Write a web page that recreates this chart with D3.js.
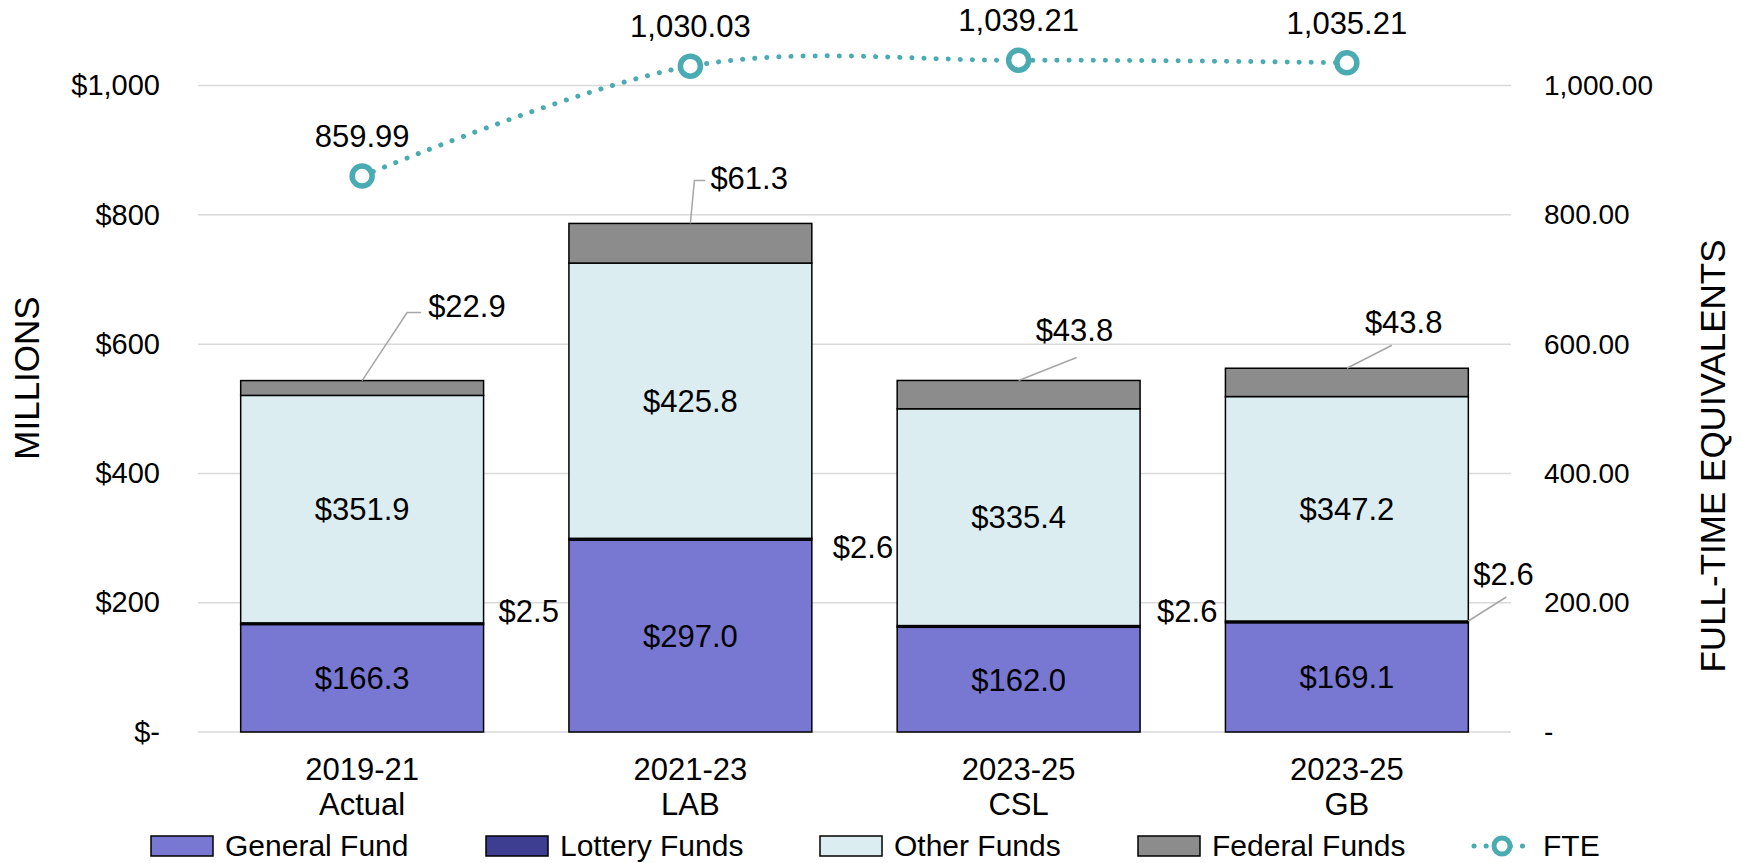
<!DOCTYPE html>
<html>
<head>
<meta charset="utf-8">
<script src="https://cdn.jsdelivr.net/npm/d3@7"></script>
<style>
  body { margin: 0; background: #fff; }
  text { font-family: 'Liberation Sans', Arial, sans-serif; fill: #000; }
</style>
</head>
<body>
<div id="chart"></div>
<script>
// Data
const categories = ['2019-21 Actual', '2021-23 LAB', '2023-25 CSL', '2023-25 GB'];
const generalFund = [166.3, 297.0, 162.0, 169.1];
const lotteryFunds = [2.5, 2.6, 2.6, 2.6];
const otherFunds = [351.9, 425.8, 335.4, 347.2];
const federalFunds = [22.9, 61.3, 43.8, 43.8];
const fte = [859.99, 1030.03, 1039.21, 1035.21];
const leftTicks = [0, 200, 400, 600, 800, 1000];
const rightTicks = [0, 200, 400, 600, 800, 1000];

const seriesNames = ['General Fund', 'Lottery Funds', 'Other Funds', 'Federal Funds'];
const seriesColors = ['#7878d2', '#3d3d92', '#dbedf0', '#8c8c8c'];
const fteColor = '#4aabb3';

const width = 1742;
const height = 863;
const fontSize = 31;

const svg = d3.select('#chart')
  .append('svg')
  .attr('width', width)
  .attr('height', height);

const x = d3.scaleBand()
  .domain(categories)
  .range([198, 1511])
  .paddingInner(0.26)
  .paddingOuter(0.13);

const y = d3.scaleLinear().domain([0, 1100]).range([732, 20.9]);
const yRight = d3.scaleLinear().domain([0, 1100]).range([732, 20.9]);

// Gridlines
svg.append('g')
  .selectAll('line')
  .data(leftTicks)
  .enter()
  .append('line')
  .attr('x1', 198)
  .attr('x2', 1511)
  .attr('y1', (d) => y(d))
  .attr('y2', (d) => y(d))
  .attr('stroke', '#d9d9d9')
  .attr('stroke-width', 1.5);

// Left axis
const leftAxis = svg.append('g')
  .attr('transform', 'translate(166,0)')
  .call(d3.axisLeft(y).tickValues(leftTicks).tickSize(0)
    .tickFormat((d) => d === 0 ? '$-' : '$' + d3.format(',')(d)));
leftAxis.select('.domain').remove();
leftAxis.selectAll('text')
  .attr('x', -6)
  .style('font-size', '29px')
  .style('font-family', 'Liberation Sans, Arial, sans-serif');

// Right axis
const rightAxis = svg.append('g')
  .attr('transform', 'translate(1538,0)')
  .call(d3.axisRight(yRight).tickValues(rightTicks).tickSize(0)
    .tickFormat((d) => d === 0 ? '-' : d3.format(',.2f')(d)));
rightAxis.select('.domain').remove();
rightAxis.selectAll('text')
  .attr('x', 6)
  .style('font-size', '28px')
  .style('font-family', 'Liberation Sans, Arial, sans-serif');

// Axis titles
svg.append('text')
  .attr('transform', 'translate(39,378) rotate(-90)')
  .attr('text-anchor', 'middle')
  .style('font-size', '35px')
  .text('MILLIONS');

svg.append('text')
  .attr('transform', 'translate(1725,456) rotate(-90)')
  .attr('text-anchor', 'middle')
  .style('font-size', '35px')
  .text('FULL-TIME EQUIVALENTS');

// Category labels (two lines)
const catLabels = svg.append('g');
categories.forEach((c) => {
  const parts = c.split(' ');
  const t = catLabels.append('text')
    .attr('text-anchor', 'middle')
    .style('font-size', fontSize + 'px');
  t.append('tspan').attr('x', x(c) + x.bandwidth() / 2).attr('y', 780).text(parts[0]);
  t.append('tspan').attr('x', x(c) + x.bandwidth() / 2).attr('y', 815).text(parts[1]);
});

// Stacked bars
const table = categories.map((c, i) => ({
  cat: c,
  'General Fund': generalFund[i],
  'Lottery Funds': lotteryFunds[i],
  'Other Funds': otherFunds[i],
  'Federal Funds': federalFunds[i]
}));
const stacked = d3.stack().keys(seriesNames)(table);

const bars = svg.append('g');
stacked.forEach((layer, li) => {
  bars.selectAll('.bar' + li)
    .data(layer)
    .enter()
    .append('rect')
    .attr('class', 'bar' + li)
    .attr('x', (d) => x(d.data.cat))
    .attr('width', x.bandwidth())
    .attr('y', (d) => y(d[1]))
    .attr('height', (d) => y(d[0]) - y(d[1]))
    .attr('fill', seriesColors[li])
    .attr('stroke', '#000')
    .attr('stroke-width', 1.5);
});

const money = (v) => '$' + v.toFixed(1);

// Centered labels for general and other funds
[0, 2].forEach((li) => {
  svg.append('g')
    .selectAll('text')
    .data(stacked[li])
    .enter()
    .append('text')
    .attr('x', (d) => x(d.data.cat) + x.bandwidth() / 2)
    .attr('y', (d) => (y(d[0]) + y(d[1])) / 2 + 11)
    .attr('text-anchor', 'middle')
    .style('font-size', fontSize + 'px')
    .text((d) => money(d[1] - d[0]));
});

// Lottery labels, placed beside the bars (offsets from bar right edge / segment top)
const lotteryNudge = [[15, -1], [21, 20], [17, -4], [5, -36]];
svg.append('g')
  .selectAll('text')
  .data(stacked[1])
  .enter()
  .append('text')
  .attr('x', (d, i) => x(d.data.cat) + x.bandwidth() + lotteryNudge[i][0])
  .attr('y', (d, i) => y(d[1]) + lotteryNudge[i][1])
  .style('font-size', fontSize + 'px')
  .text((d) => money(d[1] - d[0]));

// Leader line for the last lottery label
const lastLot = stacked[1][3];
svg.append('path')
  .attr('d', 'M' + (x(lastLot.data.cat) + x.bandwidth()) + ',' + y(lastLot[1]) +
    'l38,-24')
  .attr('fill', 'none')
  .attr('stroke', '#a6a6a6')
  .attr('stroke-width', 1.5);

// Federal labels with leader lines (offsets from bar top center)
const fedLeaders = [
  [[0, 0], [45, -68], [59, -68]],
  [[0, 0], [4, -43], [15, -43]],
  [[0, 0], [58, -23]],
  [[0, 0], [45, -23]]
];
const fedText = [[66, -64], [20, -34], [17, -39], [18, -35]];
svg.append('g')
  .selectAll('path')
  .data(stacked[3])
  .enter()
  .append('path')
  .attr('d', (d, i) => {
    const cx = x(d.data.cat) + x.bandwidth() / 2;
    const cy = y(d[1]);
    return d3.line()(fedLeaders[i].map((p) => [cx + p[0], cy + p[1]]));
  })
  .attr('fill', 'none')
  .attr('stroke', '#a6a6a6')
  .attr('stroke-width', 1.5);

svg.append('g')
  .selectAll('text')
  .data(stacked[3])
  .enter()
  .append('text')
  .attr('x', (d, i) => x(d.data.cat) + x.bandwidth() / 2 + fedText[i][0])
  .attr('y', (d, i) => y(d[1]) + fedText[i][1])
  .style('font-size', fontSize + 'px')
  .text((d) => money(d[1] - d[0]));

// FTE line
const ftePts = fte.map((v, i) => [x(categories[i]) + x.bandwidth() / 2, yRight(v)]);
svg.append('path')
  .attr('d', d3.line().curve(d3.curveCardinal.tension(0))(ftePts))
  .attr('fill', 'none')
  .attr('stroke', fteColor)
  .attr('stroke-width', 5)
  .attr('stroke-linecap', 'round')
  .attr('stroke-dasharray', '0.1 12');

svg.append('g')
  .selectAll('circle')
  .data(ftePts)
  .enter()
  .append('circle')
  .attr('cx', (d) => d[0])
  .attr('cy', (d) => d[1])
  .attr('r', 10)
  .attr('fill', '#fff')
  .attr('stroke', fteColor)
  .attr('stroke-width', 5.5);

svg.append('g')
  .selectAll('text')
  .data(fte)
  .enter()
  .append('text')
  .attr('x', (d, i) => ftePts[i][0])
  .attr('y', (d, i) => ftePts[i][1] - 29)
  .attr('text-anchor', 'middle')
  .style('font-size', fontSize + 'px')
  .text((d) => d3.format(',.2f')(d));

// Legend
const legendX = [151, 486, 820, 1138];
const legend = svg.append('g');
seriesNames.forEach((name, i) => {
  legend.append('rect')
    .attr('x', legendX[i])
    .attr('y', 836)
    .attr('width', 62)
    .attr('height', 20)
    .attr('fill', seriesColors[i])
    .attr('stroke', '#000')
    .attr('stroke-width', 1.5);
  legend.append('text')
    .attr('x', legendX[i] + 74)
    .attr('y', 856)
    .style('font-size', '30px')
    .text(name);
});
legend.append('line')
  .attr('x1', 1474)
  .attr('x2', 1531)
  .attr('y1', 846)
  .attr('y2', 846)
  .attr('stroke', fteColor)
  .attr('stroke-width', 5)
  .attr('stroke-linecap', 'round')
  .attr('stroke-dasharray', '0.1 12');
legend.append('circle')
  .attr('cx', 1502)
  .attr('cy', 846)
  .attr('r', 8)
  .attr('fill', '#fff')
  .attr('stroke', fteColor)
  .attr('stroke-width', 5);
legend.append('text')
  .attr('x', 1543)
  .attr('y', 856)
  .style('font-size', '30px')
  .text('FTE');
</script>
</body>
</html>
